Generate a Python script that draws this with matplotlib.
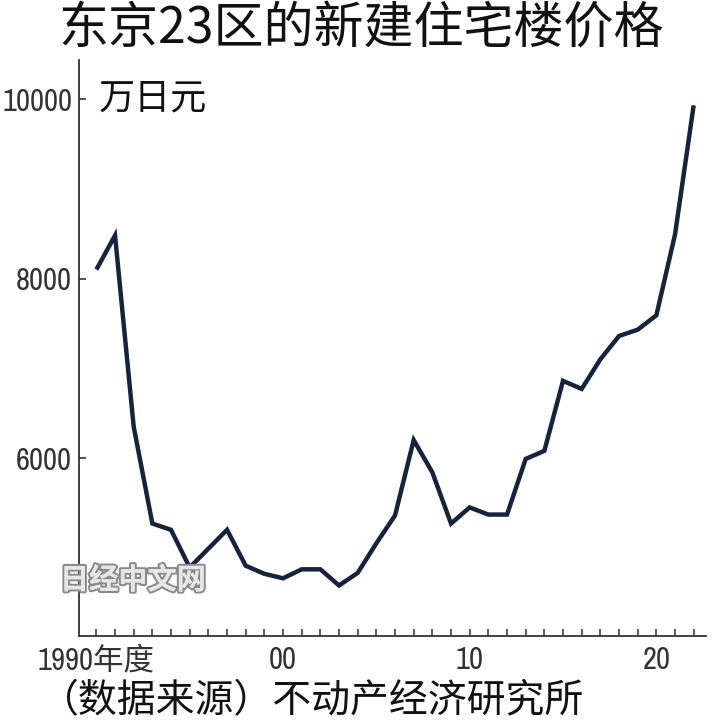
import matplotlib
matplotlib.use("Agg")
import matplotlib.pyplot as plt
import matplotlib.patheffects as pe
from matplotlib.ticker import MultipleLocator, FixedLocator
from matplotlib import font_manager

years = list(range(1990, 2023))
prices = [8100, 8480, 6350, 5270, 5200, 4780, 4990, 5200, 4800, 4710,
          4660, 4760, 4760, 4580, 4720, 5050, 5360, 6200, 5840, 5270,
          5450, 5370, 5370, 5990, 6080, 6860, 6770, 7100, 7360, 7430,
          7590, 8490, 9930]
y_ticks = [6000, 8000, 10000]
x_ticks = [1990, 2000, 2010, 2020]
x_tick_labels = ["1990年度", "00", "10", "20"]
title = "东京23区的新建住宅楼价格"
unit = "万日元"
source = "（数据来源）不动产经济研究所"
watermark = "日经中文网"

names = {f.name for f in font_manager.fontManager.ttflist}
narrow = "Roboto"
for cand in ["Archivo Narrow", "Barlow Condensed", "Fira Sans Condensed"]:
    if cand in names:
        narrow = cand
        break
CJK = "Noto Sans CJK SC"
num_fam = [narrow, CJK]

W, H = 720, 728
fig = plt.figure(figsize=(W / 100, H / 100), dpi=100)
ax = fig.add_axes([79 / W, 1 - 636 / H, (706 - 79) / W, (636 - 60) / H])

ax.plot(years, prices, color="#17223b", lw=3.2, solid_joinstyle="miter",
        solid_capstyle="butt", zorder=3)

ax.set_xlim(1989.07, 2022.66)
ax.set_ylim(4017, 10435)

for s in ["top", "right"]:
    ax.spines[s].set_visible(False)
for s in ["left", "bottom"]:
    ax.spines[s].set_color("#333333")
    ax.spines[s].set_linewidth(1.3)

ax.yaxis.set_major_locator(FixedLocator(y_ticks))
ax.set_yticklabels([str(v) for v in y_ticks])
ax.xaxis.set_major_locator(FixedLocator(x_ticks))
ax.xaxis.set_minor_locator(MultipleLocator(1))
ax.set_xticklabels(x_tick_labels)

ax.tick_params(axis="y", direction="in", length=5, width=1.2, color="#333333",
               pad=5, labelsize=22, labelcolor="#333333")
ax.tick_params(axis="x", which="both", direction="in", length=5, width=1.1,
               color="#333333", pad=7, labelsize=22, labelcolor="#333333")
for lab in ax.get_yticklabels() + ax.get_xticklabels():
    lab.set_family(num_fam)

fig.text(361 / W, 1 - 29 / H, title, ha="center", va="center",
         fontsize=36, family=[CJK], color="#111111", weight="medium")
fig.text(99 / W, 1 - 98 / H, unit, ha="left", va="center",
         fontsize=26, family=[CJK], color="#111111")
fig.text(40 / W, 1 - 701 / H, source, ha="left", va="center",
         fontsize=28, family=[CJK], color="#111111")
fig.text(60 / W, 1 - 580 / H, watermark, ha="left", va="center",
         fontsize=21, family=[CJK], color="#e6e6e6", weight="bold", zorder=5,
         path_effects=[pe.withStroke(linewidth=3, foreground="#8a8a8a"),
                       pe.Normal()])

fig.savefig("out.png", dpi=100, facecolor="white")
